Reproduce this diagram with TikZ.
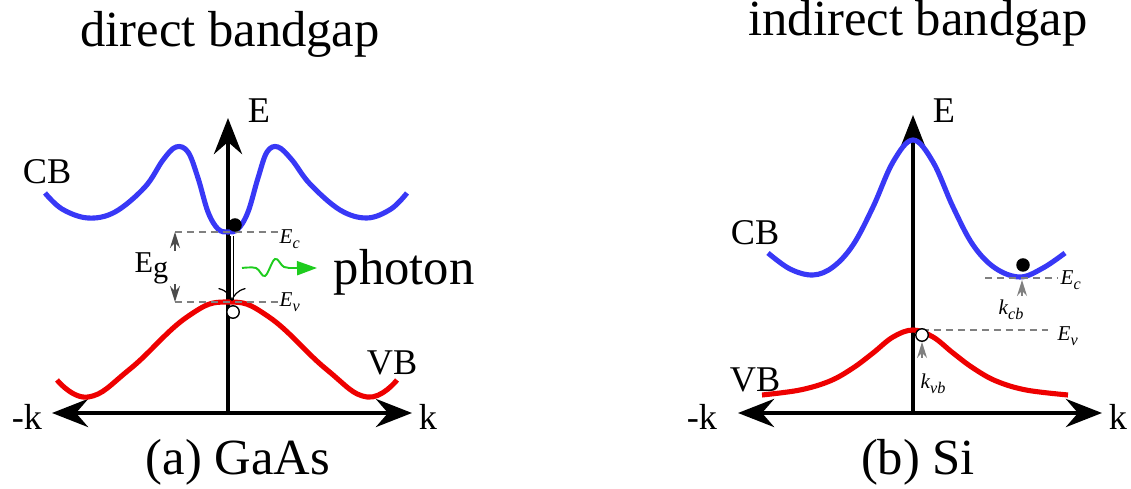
\documentclass[tikz,border=0pt]{standalone}
\usepackage{fontspec}
\setmainfont{Liberation Serif}
\usetikzlibrary{arrows.meta, positioning}
\definecolor{cbblue}{HTML}{3838F6}
\definecolor{vbred}{HTML}{EE0000}
\definecolor{phgreen}{HTML}{1ECC1E}
\newcommand{\sublab}[2]{{\itshape #1\raisebox{-0.45ex}{\fontsize{4.6}{5}\selectfont #2}}}
\tikzset{
	bigtip/.tip={Stealth[length=3.6mm,width=2.8mm,inset=1.2mm]},
	axisline/.style={
			line width=1.4pt,
			black
		},
	cbcurve/.style={
			line width=1.45pt,
			draw=cbblue
		},
	vbcurve/.style={
			line width=1.45pt,
			draw=vbred
		},
	levelline/.style={
			draw=gray,
			line width=0.45pt,
			dash pattern=on 2pt off 1.4pt
		},
	smallarrow/.style={
			draw=gray,
			line width=0.4pt,
			-{Stealth[length=1.6mm,width=1mm]}
		},
	electron/.style={
			circle,
			fill=black,
			minimum size=1.35mm,
			inner sep=0pt
		},
	hole/.style={
			circle,
			draw=black,
			fill=white,
			line width=0.4pt,
			minimum size=1.25mm,
			inner sep=0pt
		}
}
\tikzset{
	bigtext/.style={font=\fontsize{14.4}{16}\selectfont, inner sep=0pt},
	axtext/.style={font=\fontsize{10.3}{12}\selectfont, inner sep=0pt},
	tinytext/.style={font=\fontsize{6}{7}\selectfont, inner sep=0pt}
}
\begin{document}
\begin{tikzpicture}[x=0.01cm, y=-0.01cm]

  \useasboundingbox (0,0) rectangle (1131,489);

  % (a) direct bandgap
  \coordinate (a-o) at (228,413);
  \coordinate (a-left) at (52,413);
  \coordinate (a-right) at (412,413);
  \coordinate (a-top) at (228,118);

  \draw[axisline, bigtip-bigtip] (a-left) -- (a-right);
  \draw[axisline, -bigtip] (a-o) -- (a-top);

  \draw[cbcurve] plot[smooth, tension=0.6] coordinates {
    (45,193) (62,209) (88,218) (115,212) (145,187) (163,160) (176,147) (188,152)
    (198,178) (208,212) (218,229) (228,232) (238,229) (248,212) (258,178)
    (267,152) (278,147) (292,160) (310,184) (340,210) (367,218) (391,209) (407,193)};
  \draw[vbcurve] plot[smooth, tension=0.75] coordinates {
    (57,380) (88,397) (130,369) (187,317) (228,302) (269,317)
    (326,369) (367,397) (397,380)};

  \coordinate (a-ec-l) at (175,232);
  \coordinate (a-ec-r) at (278,232);
  \coordinate (a-ev-l) at (175,302);
  \coordinate (a-ev-r) at (278,302);
  \draw[levelline] (a-ec-l) -- (a-ec-r);
  \draw[levelline] (a-ev-l) -- (a-ev-r);
  \node[tinytext, anchor=base west] (a-ec) at (279,244) {\sublab{E}{c}};
  \node[tinytext, anchor=base west] (a-ev) at (279,307) {\sublab{E}{v}};

  \coordinate (a-eg-up) at (175,251);
  \coordinate (a-eg-dn) at (175,284);
  \draw[smallarrow, draw=black!70] (a-eg-up) -- (a-ec-l);
  \draw[smallarrow, draw=black!70] (a-eg-dn) -- (a-ev-l);
  \node[inner sep=0pt, anchor=base west, font=\fontsize{8.6}{10}\selectfont] (a-eg) at (134,273) {E\raisebox{-1.3pt}{g}};

  \node[electron] (a-el) at (235,225) {};
  \node[hole] (a-ho) at (233,312) {};
  \coordinate (a-tr-top) at (232,236);
  \coordinate (a-tr-bot) at (232,301);
  \draw[double, double distance=0.5pt, line width=0.35pt, -{To[length=1.3mm]}] (a-tr-top) -- (a-tr-bot);

  \draw[phgreen, line width=0.55pt, -{Triangle[length=2mm,width=1.4mm]}] plot[smooth, tension=0.6] coordinates {
    (242,268) (256,268) (265,276) (275,259) (284,267) (296,268) (317,268)};
  \node[bigtext, anchor=base west] (a-ph) at (333,285) {photon};

  \node[axtext] (a-e) at (259,111) {E};
  \node[axtext] (a-cb) at (47,172) {CB};
  \node[axtext] (a-vb) at (392,363) {VB};
  \node[axtext] (a-mk) at (27,417) {-k};
  \node[axtext] (a-k) at (428,417) {k};

  \node[bigtext, anchor=base] (a-title) at (230,47) {direct bandgap};
  \node[bigtext, anchor=base] (a-cap) at (238,475) {(a) GaAs};

  % (b) indirect bandgap
  \coordinate (b-o) at (913,413);
  \coordinate (b-left) at (738,413);
  \coordinate (b-right) at (1102,413);
  \coordinate (b-top) at (913,115);

  \draw[axisline, bigtip-bigtip] (b-left) -- (b-right);
  \draw[axisline, -bigtip] (b-o) -- (b-top);

  \draw[cbcurve] plot[smooth, tension=0.6] coordinates {
    (768,253) (790,269) (813,275) (833,267) (853,245) (873,207) (893,162)
    (913,140) (933,162) (953,207) (973,245) (995,268) (1020,277) (1043,268) (1065,253)};
  \draw[vbcurve] plot[smooth, tension=0.6] coordinates {
    (762,395) (800,390) (830,381) (853,368) (873,353) (893,337) (913,330)
    (933,337) (953,353) (973,368) (996,381) (1026,390) (1068,395)};

  \coordinate (b-ec-l) at (985,278);
  \coordinate (b-ec-r) at (1057,278);
  \coordinate (b-ev-l) at (922,330);
  \coordinate (b-ev-r) at (1048,330);
  \draw[levelline] (b-ec-l) -- (b-ec-r);
  \draw[levelline] (b-ev-l) -- (b-ev-r);
  \node[tinytext, anchor=base west] (b-ec) at (1060,285) {\sublab{E}{c}};
  \node[tinytext, anchor=base west] (b-ev) at (1057,341) {\sublab{E}{v}};

  \node[electron] (b-el) at (1023,265) {};
  \node[hole] (b-ho) at (922,335) {};

  \coordinate (b-kcb-from) at (1022,296);
  \coordinate (b-kcb-to) at (1022,280);
  \coordinate (b-kvb-from) at (922,358);
  \coordinate (b-kvb-to) at (922,342);
  \draw[smallarrow] (b-kcb-from) -- (b-kcb-to);
  \draw[smallarrow] (b-kvb-from) -- (b-kvb-to);
  \node[tinytext, anchor=base west] (b-kcb) at (998,315) {\sublab{k}{cb}};
  \node[tinytext, anchor=base west] (b-kvb) at (920,389) {\sublab{k}{vb}};

  \node[axtext] (b-e) at (944,111) {E};
  \node[axtext] (b-cb) at (755,233) {CB};
  \node[axtext] (b-vb) at (755,380) {VB};
  \node[axtext] (b-mk) at (702,417) {-k};
  \node[axtext] (b-k) at (1118,417) {k};

  \node[bigtext, anchor=base] (b-title) at (918,36) {indirect bandgap};
  \node[bigtext, anchor=base] (b-cap) at (918,475) {(b) Si};

\end{tikzpicture}
\end{document}
